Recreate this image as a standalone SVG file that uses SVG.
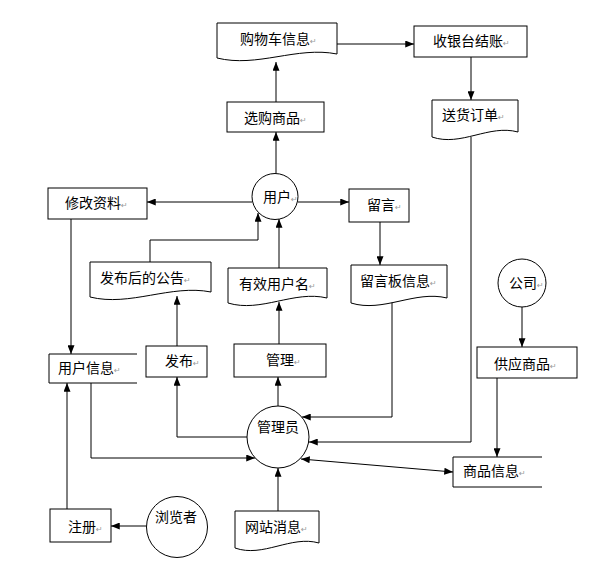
<svg xmlns="http://www.w3.org/2000/svg" width="605" height="562" viewBox="0 0 605 562">
<style>
.s{fill:#fff;stroke:#000;stroke-width:1}
.o{fill:none;stroke:#000;stroke-width:1}
.t{font-family:"Noto Sans CJK SC","Liberation Sans",sans-serif;font-size:14px;fill:#000}
.r{font-family:"DejaVu Sans",sans-serif;font-size:8px;fill:#999}
.c{fill:none;stroke:#000;stroke-width:1;marker-end:url(#a)}
</style>
<defs>
<marker id="a" viewBox="0 0 10 8" refX="10" refY="4" markerWidth="9" markerHeight="7" markerUnits="userSpaceOnUse" orient="auto-start-reverse">
<path d="M0,0 L10,4 L0,8 z" fill="#000"/>
</marker>
</defs>
<rect width="605" height="562" fill="#fff"/>
<g id="connectors">
<path class="c" d="M337,44 H414"/>
<path class="c" d="M471,57 V100"/>
<path class="c" d="M276,102 V62"/>
<path class="c" d="M276,173.5 V132"/>
<path class="c" d="M252,202 H147"/>
<path class="c" d="M298,202 H349"/>
<path class="c" d="M380,222 V265"/>
<path class="c" d="M150,262 V240 H258 V213"/>
<path class="c" d="M279,268 V219"/>
<path class="c" d="M71,219 V354"/>
<path class="c" d="M177,346 V296"/>
<path class="c" d="M279,344 V302"/>
<path class="c" d="M278,406 V377"/>
<path class="c" d="M247,437 H177 V377"/>
<path class="c" d="M392,302 V417 H302"/>
<path class="c" d="M471,137 V442 H309"/>
<path class="c" d="M91,383 V458 H255"/>
<path class="c" d="M301,459 L453,472" marker-start="url(#a)"/>
<path class="c" d="M497,378 V457"/>
<path class="c" d="M522,307 V347"/>
<path class="c" d="M67,509 V383"/>
<path class="c" d="M146.5,526 H111"/>
<path class="c" d="M278,511 V468"/>
</g>
<g id="n-cart">
<path class="s" d="M217,23 H337 V54 C297,46 257,68 217,58 Z"/>
<text class="t" x="240" y="44">购物车信息<tspan class="r">↵</tspan></text>
</g>
<g id="n-checkout">
<rect class="s" x="414" y="26" width="113" height="31"/>
<text class="t" x="433" y="46">收银台结账<tspan class="r">↵</tspan></text>
</g>
<g id="n-order">
<path class="s" d="M432,100 H518 V132 C489,124 461,147 432,137 Z"/>
<text class="t" x="442" y="120">送货订单<tspan class="r">↵</tspan></text>
</g>
<g id="n-select">
<rect class="s" x="227" y="102" width="97" height="30"/>
<text class="t" x="244" y="123">选购商品<tspan class="r">↵</tspan></text>
</g>
<g id="n-user">
<circle class="s" cx="275" cy="196.5" r="23"/>
<text class="t" x="263" y="202">用户<tspan class="r">↵</tspan></text>
</g>
<g id="n-modify">
<rect class="s" x="48" y="188" width="99" height="31"/>
<text class="t" x="65" y="208">修改资料<tspan class="r">↵</tspan></text>
</g>
<g id="n-msg">
<rect class="s" x="349" y="189" width="60" height="33"/>
<text class="t" x="367" y="210">留言<tspan class="r">↵</tspan></text>
</g>
<g id="n-notice">
<path class="s" d="M90,262 H211 V292 C171,284 130,307 90,297 Z"/>
<text class="t" x="100" y="283">发布后的公告<tspan class="r">↵</tspan></text>
</g>
<g id="n-validuser">
<path class="s" d="M228,268 H327 V298 C294,290 261,313 228,303 Z"/>
<text class="t" x="239" y="289">有效用户名<tspan class="r">↵</tspan></text>
</g>
<g id="n-board">
<path class="s" d="M351,265 H447 V298 C415,290 383,313 351,303 Z"/>
<text class="t" x="360" y="286">留言板信息<tspan class="r">↵</tspan></text>
</g>
<g id="n-company">
<circle class="s" cx="522" cy="283" r="24"/>
<text class="t" x="509" y="288">公司<tspan class="r" font-size="6">↵</tspan></text>
</g>
<g id="n-userinfo">
<path class="s" d="M137,354 H49 V383 H137"/>
<text class="t" x="58" y="373">用户信息<tspan class="r">↵</tspan></text>
</g>
<g id="n-publish">
<rect class="s" x="146" y="346" width="61" height="31"/>
<text class="t" x="165" y="366">发布<tspan class="r">↵</tspan></text>
</g>
<g id="n-manage">
<rect class="s" x="234" y="344" width="92" height="33"/>
<text class="t" x="266" y="365">管理<tspan class="r">↵</tspan></text>
</g>
<g id="n-supply">
<rect class="s" x="477" y="347" width="100" height="31"/>
<text class="t" x="494" y="369">供应商品<tspan class="r">↵</tspan></text>
</g>
<g id="n-admin">
<circle class="s" cx="278" cy="437" r="31"/>
<text class="t" x="257" y="432">管理员</text>
</g>
<g id="n-goods">
<path class="s" d="M542,457 H453 V487 H542"/>
<text class="t" x="463" y="476">商品信息<tspan class="r">↵</tspan></text>
</g>
<g id="n-register">
<rect class="s" x="50" y="509" width="61" height="33"/>
<text class="t" x="68" y="532">注册<tspan class="r">↵</tspan></text>
</g>
<g id="n-visitor">
<circle class="s" cx="177" cy="527" r="30.5"/>
<text class="t" x="155" y="522">浏览者</text>
</g>
<g id="n-sitemsg">
<path class="s" d="M235,511 H319 V543 C291,535 263,558 235,548 Z"/>
<text class="t" x="245" y="532">网站消息<tspan class="r">↵</tspan></text>
</g>
</svg>
